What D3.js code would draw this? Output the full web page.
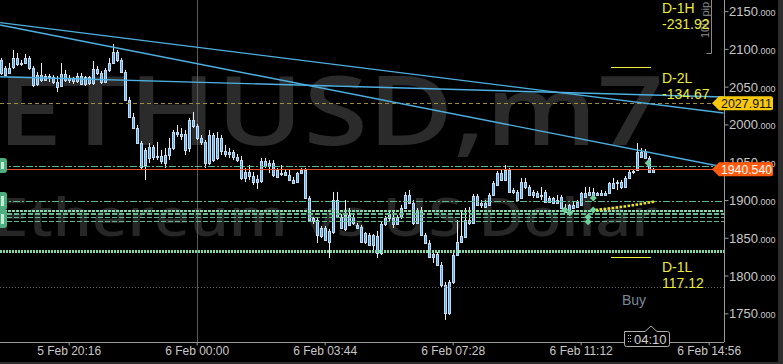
<!DOCTYPE html>
<html><head><meta charset="utf-8">
<script src="https://cdn.jsdelivr.net/npm/d3@7"></script>
<style>html,body{margin:0;padding:0;background:#000;overflow:hidden}svg{display:block}</style>
</head><body><svg id="c" width="783" height="364"></svg>
<script>
// ---------- DATA ----------
const firstCandle = "2024 5 Feb 18:17";
const candleMinutes = 7;
const openP = [2085.3,2065.4,2074.7,2076.0,2087.9,2080.0,2081.3,2087.9,2074.7,2053.5,
2065.4,2058.8,2064.1,2062.8,2056.2,2050.9,2066.8,2058.8,2061.5,2057.5,
2064.1,2053.5,2062.8,2054.8,2073.4,2068.1,2056.2,2072.1,2081.3,2095.9,
2085.3,2069.4,2032.3,2009.8,1995.3,1975.4,1946.3,1955.6,1970.1,1956.9,
1958.2,1949.0,1959.5,1968.8,1990.0,1987.3,1987.3,1968.8,2005.9,1997.9,
1982.0,1976.8,1949.0,1986.0,1955.6,1982.0,1964.8,1960.9,1963.5,1956.9,
1952.9,1929.1,1937.0,1931.7,1923.8,1925.1,1951.6,1945.0,1949.0,1939.7,
1934.4,1937.0,1933.1,1926.5,1923.8,1935.7,1939.7,1902.6,1872.2,1873.5,
1852.3,1862.9,1858.9,1857.6,1900.0,1877.5,1861.6,1880.1,1869.5,1866.9,
1864.2,1844.4,1853.7,1840.4,1852.3,1829.8,1868.2,1876.2,1876.2,1868.2,
1877.5,1889.4,1906.6,1896.0,1869.5,1886.7,1853.7,1843.1,1824.5,1828.5,
1814.0,1787.5,1750.4,1791.4,1827.2,1844.4,1851.0,1873.5,1869.5,1905.3,
1893.4,1896.0,1893.4,1906.6,1919.8,1935.7,1926.5,1939.7,1910.6,1910.6,
1902.6,1923.8,1917.2,1906.6,1909.2,1905.3,1910.6,1897.3,1902.6,1896.0,
1903.9,1889.4,1884.1,1893.4,1890.7,1893.4,1909.2,1906.6,1910.6,1906.6,
1909.2,1906.6,1909.2,1922.5,1922.5,1923.8,1917.2,1929.1,1937.0,1939.7,
1963.5,1964.8,1955.6,1937.0];
const highP = [2087.9,2077.3,2081.3,2098.5,2094.5,2085.3,2093.2,2090.6,2077.3,2069.4,
2081.3,2066.8,2066.8,2065.4,2064.1,2081.3,2072.1,2065.4,2062.8,2068.1,
2068.1,2064.1,2064.1,2084.0,2077.3,2070.7,2074.7,2087.9,2106.5,2098.5,
2087.9,2072.1,2036.3,2015.1,1999.2,1978.1,1968.8,1975.4,1972.8,1976.8,
1966.2,1968.8,1982.0,1992.6,1999.2,1995.3,1992.6,2008.5,2016.5,2000.6,
1986.0,1979.4,1992.6,1988.7,1990.0,1986.0,1972.8,1968.8,1966.2,1960.9,
1958.2,1942.3,1946.3,1937.0,1933.1,1955.6,1955.6,1952.9,1952.9,1942.3,
1946.3,1939.7,1939.7,1930.4,1937.0,1942.3,1942.3,1905.3,1877.5,1876.2,
1865.6,1865.6,1861.6,1910.6,1910.6,1881.5,1900.0,1889.4,1880.1,1869.5,
1866.9,1857.6,1856.3,1855.0,1858.9,1870.9,1878.8,1884.1,1884.1,1880.1,
1893.4,1910.6,1913.2,1900.0,1889.4,1890.7,1856.3,1847.0,1833.8,1831.1,
1817.9,1791.4,1794.1,1829.8,1873.5,1886.7,1889.4,1890.7,1907.9,1907.9,
1900.0,1900.0,1909.2,1925.1,1938.4,1939.7,1946.3,1942.3,1915.9,1913.2,
1929.1,1929.1,1919.8,1913.2,1911.9,1917.2,1913.2,1905.3,1903.9,1906.6,
1906.6,1894.7,1894.7,1897.3,1900.0,1910.6,1917.2,1917.2,1915.9,1910.6,
1913.2,1911.9,1923.8,1929.1,1926.5,1926.5,1931.7,1939.7,1941.0,1975.4,
1968.8,1967.5,1958.2,1942.3];
const lowP = [2065.4,2064.1,2066.8,2073.4,2077.3,2077.3,2080.0,2072.1,2049.5,2050.9,
2056.2,2057.5,2056.2,2053.5,2042.9,2049.5,2056.2,2054.8,2053.5,2054.8,
2052.2,2050.9,2052.2,2052.2,2065.4,2053.5,2054.8,2069.4,2080.0,2082.6,
2068.1,2031.0,2008.5,1994.0,1974.1,1939.7,1926.5,1949.0,1952.9,1952.9,
1947.6,1942.3,1952.9,1966.2,1983.4,1979.4,1959.5,1963.5,1995.3,1979.4,
1972.8,1942.3,1946.3,1950.3,1952.9,1959.5,1956.9,1955.6,1952.9,1950.3,
1926.5,1923.8,1926.5,1919.8,1914.5,1922.5,1942.3,1935.7,1930.4,1929.1,
1931.7,1931.7,1925.1,1921.2,1922.5,1934.4,1901.3,1870.9,1868.2,1843.1,
1849.7,1845.7,1823.2,1855.0,1876.2,1861.6,1858.9,1865.6,1866.9,1861.6,
1843.1,1841.7,1839.1,1829.8,1823.2,1827.2,1865.6,1872.2,1862.9,1866.9,
1874.8,1888.1,1894.7,1866.9,1868.2,1852.3,1841.7,1823.2,1816.6,1812.6,
1784.8,1741.2,1747.8,1788.8,1825.9,1843.1,1849.7,1866.9,1868.2,1892.0,
1889.4,1889.4,1892.0,1905.3,1918.5,1925.1,1925.1,1909.2,1907.9,1898.7,
1901.3,1914.5,1905.3,1902.6,1902.6,1900.0,1896.0,1896.0,1894.7,1894.7,
1888.1,1882.8,1882.8,1888.1,1889.4,1892.0,1902.6,1905.3,1901.3,1905.3,
1905.3,1905.3,1907.9,1914.5,1913.2,1914.5,1915.9,1927.8,1934.4,1938.4,
1955.6,1954.2,1935.7,1935.7];
const closeP = [2068.1,2074.7,2068.1,2087.9,2080.0,2081.3,2087.9,2074.7,2052.2,2065.4,
2058.8,2064.1,2062.8,2056.2,2049.5,2066.8,2058.8,2061.5,2057.5,2064.1,
2053.5,2062.8,2054.8,2073.4,2068.1,2056.2,2072.1,2081.3,2095.9,2085.3,
2069.4,2032.3,2009.8,1995.3,1975.4,1943.7,1966.2,1970.1,1956.9,1958.2,
1951.6,1959.5,1968.8,1990.0,1987.3,1984.7,1966.2,2005.9,1997.9,1982.0,
1976.8,1949.0,1986.0,1952.9,1982.0,1964.8,1960.9,1963.5,1956.9,1952.9,
1929.1,1937.0,1931.7,1923.8,1927.8,1951.6,1945.0,1949.0,1933.1,1930.4,
1935.7,1933.1,1926.5,1922.5,1935.7,1939.7,1902.6,1873.5,1876.2,1853.7,
1862.9,1847.0,1844.4,1900.0,1877.5,1862.9,1880.1,1866.9,1877.5,1862.9,
1844.4,1856.3,1840.4,1853.7,1829.8,1868.2,1876.2,1881.5,1868.2,1877.5,
1889.4,1906.6,1896.0,1869.5,1886.7,1853.7,1843.1,1824.5,1828.5,1814.0,
1787.5,1750.4,1791.4,1827.2,1844.4,1852.3,1873.5,1869.5,1905.3,1893.4,
1896.0,1890.7,1906.6,1922.5,1935.7,1926.5,1939.7,1910.6,1913.2,1900.0,
1923.8,1917.2,1906.6,1910.6,1903.9,1906.6,1897.3,1902.6,1896.0,1900.0,
1889.4,1884.1,1893.4,1889.4,1897.3,1909.2,1903.9,1910.6,1902.6,1909.2,
1906.6,1909.2,1922.5,1915.9,1923.8,1917.2,1929.1,1937.0,1938.4,1963.5,
1956.9,1955.6,1937.0,1940.54];

const priceTicks = [2150,2100,2050,2000,1950,1900,1850,1800,1750];
const timeTickLabels = ["5 Feb 20:16","6 Feb 00:00","6 Feb 03:44","6 Feb 07:28","6 Feb 11:12","6 Feb 14:56"];

// trendlines: start/end times and prices
const trendTimes = ["5 Feb 18:16","6 Feb 15:22"];
const trendA = [2134.7, 2015.1];
const trendB = [2131.6, 1943.7];
const trendC = [2063.2, 2036.3];

// horizontal levels
const levelPrices = [2027.911, 1945.0, 1940.54, 1899.1, 1885.4, 1883.4, 1880.8, 1877.0, 1871.8, 1832.5, 1785.2];
const levelKinds  = ["gold","greenDD","red","greenDD","greenThick","greenDash","greenDash","greenDash","greenDash","greenDots","gray"];

// yellow indicator (last 16 candles)
const indicatorStart = 148;
const indicatorVals = [1886.7,1887.1,1887.7,1888.2,1888.9,1889.5,1890.2,1890.9,1891.6,1892.4,1893.2,1894.0,1894.9,1895.9,1896.8,1897.6];

// trade markers
const markerTimes = ["6 Feb 10:44","6 Feb 10:53","6 Feb 11:34","6 Feb 11:25","6 Feb 11:25","6 Feb 11:34","6 Feb 13:10"];
const markerPrices = [1886.7,1883.2,1886.7,1877.5,1871.3,1902.6,1949.0];

// daily pivot segments
const pivotTimes = ["6 Feb 12:05","6 Feb 13:15"];
const pivotPrices = [2076.0, 1824.1];
const pivotLabels = [["D-1H","-231.92",2148.0],["D-2L","-134.67",2055.2],["D-1L","117.12",1805.0]];

const askLabel = "2027.911";
const bidLabel = "1940.540";

// ---------- CHART ----------
const svg = d3.select('#c');
const W = 783, H = 364, plotR = 724, plotB = 342;
const parse = d3.timeParse('%Y %d %b %H:%M');
const P = s => parse('2024 ' + s);
const x = d3.scaleTime().domain([P('5 Feb 20:16'), P('6 Feb 14:56')]).range([68.7, 708.7]);
const y = d3.scaleLinear().domain([1750, 2150]).range([313.3, 11.1]);

svg.append('rect').attr('width', W).attr('height', H).attr('fill', '#000');

const defs = svg.append('defs');
defs.append('clipPath').attr('id', 'plot').append('rect').attr('x', 0).attr('y', 0).attr('width', plotR).attr('height', plotB);

// watermark
const wm = svg.append('g').attr('clip-path', 'url(#plot)');
wm.append('text').attr('x', -3).attr('y', 145).attr('font-family', 'Open Sans, sans-serif').attr('font-weight', 600)
  .attr('font-size', 96).attr('fill', '#2b2b2b').attr('textLength', 667).attr('lengthAdjust', 'spacingAndGlyphs')
  .text('ETHUSD,m7');
wm.append('text').attr('x', -6).attr('y', 236).attr('font-family', 'Open Sans, sans-serif').attr('font-weight', 600)
  .attr('font-size', 52).attr('fill', '#272727').attr('textLength', 664).attr('lengthAdjust', 'spacingAndGlyphs')
  .text('Ethereum vs US Dollar');

const plot = svg.append('g').attr('clip-path', 'url(#plot)');

// day separator
plot.append('line').attr('x1', Math.round(x(P('6 Feb 00:00'))) + 0.5).attr('x2', Math.round(x(P('6 Feb 00:00'))) + 0.5)
  .attr('y1', 0).attr('y2', plotB).attr('stroke', '#5a5a5a').attr('stroke-width', 1);

// candles
const t0 = parse(firstCandle);
const candles = openP.map((o, i) => ({t: d3.timeMinute.offset(t0, i * candleMinutes), o, h: highP[i], l: lowP[i], c: closeP[i]}));
const cg = plot.append('g');
candles.forEach(d => {
  const cx = Math.round(x(d.t));
  cg.append('line').attr('x1', cx + 0.5).attr('x2', cx + 0.5).attr('y1', y(d.h)).attr('y2', y(d.l))
    .attr('stroke', '#e8eef4').attr('stroke-width', 1);
  const top = Math.round(y(Math.max(d.o, d.c))), bot = Math.round(y(Math.min(d.o, d.c)));
  cg.append('rect').attr('x', cx - 0.5).attr('y', top + 0.5).attr('width', 2).attr('height', Math.max(bot - top, 1))
    .attr('fill', '#5aaaf0').attr('stroke', '#c4dcf0').attr('stroke-width', 1);
  cg.append('rect').attr('x', cx).attr('y', top + 1).attr('width', 1).attr('height', Math.max(bot - top - 1, 0))
    .attr('fill', '#5aaaf0');
});

// horizontal levels
const levelStyle = {
  gold: {stroke: '#a08c3c', w: 1, dash: '4,3'},
  greenDD: {stroke: '#5fb98c', w: 1, dash: '7,2,2,2'},
  red: {stroke: '#e8502a', w: 1, dash: null},
  greenThick: {stroke: '#86d8aa', w: 2, dash: '3,1'},
  greenDash: {stroke: '#5fb98c', w: 1, dash: '5,2'},
  greenDots: {stroke: '#7fd8a6', w: 3, dash: '2,1'},
  gray: {stroke: '#6a6a6a', w: 1, dash: '1,2'}
};
levelPrices.forEach((p, i) => {
  const s = levelStyle[levelKinds[i]];
  const yy = Math.round(y(p)) + (s.w % 2 ? 0.5 : 0);
  plot.append('line').attr('x1', 0).attr('x2', plotR).attr('y1', yy).attr('y2', yy)
    .attr('stroke', s.stroke).attr('stroke-width', s.w).attr('stroke-dasharray', s.dash);
});

// trendlines
[trendA, trendB, trendC].forEach(tr => {
  plot.append('line').attr('x1', x(P(trendTimes[0]))).attr('y1', y(tr[0]))
    .attr('x2', x(P(trendTimes[1]))).attr('y2', y(tr[1]))
    .attr('stroke', '#4db0e0').attr('stroke-width', 1.4);
});

// indicator dots
indicatorVals.forEach((v, i) => {
  const cx = x(candles[indicatorStart + i].t);
  plot.append('rect').attr('x', cx - 1.2).attr('y', y(v) - 1.2).attr('width', 2.6).attr('height', 2.6).attr('fill', '#e8e020');
});

// trade markers
markerTimes.forEach((t, i) => {
  const cx = x(P(t)), cy = y(markerPrices[i]);
  plot.append('path').attr('d', `M${cx},${cy - 3.5}L${cx + 3.5},${cy}L${cx},${cy + 3.5}L${cx - 3.5},${cy}Z`).attr('fill', '#6fcf9c');
});

// pivot segments
pivotPrices.forEach(p => {
  plot.append('line').attr('x1', x(P(pivotTimes[0]))).attr('x2', x(P(pivotTimes[1])))
    .attr('y1', Math.round(y(p)) + 0.5).attr('y2', Math.round(y(p)) + 0.5).attr('stroke', '#f0f040').attr('stroke-width', 1.2);
});

// 100 pip scale bracket
svg.append('path').attr('d', 'M706.5,53.5H711.5V0').attr('fill', 'none').attr('stroke', '#8a8a8a');
svg.append('text').attr('transform', 'translate(709,38) rotate(-90)').attr('font-family', 'Liberation Sans, Arial')
  .attr('font-size', 11).attr('fill', '#8a8a8a').text('100 pip');

// pivot labels
pivotLabels.forEach(pl => {
  const by = y(pl[2]);
  const tg = svg.append('text').attr('font-family', 'Liberation Sans, Arial').attr('font-size', 14).attr('fill', '#ecec3c');
  tg.append('tspan').attr('x', 662).attr('y', by).text(pl[0]);
  tg.append('tspan').attr('x', 662).attr('y', by + 16).text(pl[1]);
});

// Buy label
svg.append('text').attr('x', 622).attr('y', 305).attr('font-family', 'Liberation Sans, Arial').attr('font-size', 14)
  .attr('fill', '#7c8a9a').text('Buy');

// left labels
[[158, 15], [192, 18], [210, 18]].forEach(r => {
  svg.append('rect').attr('x', -6).attr('y', r[0]).attr('width', 13).attr('height', r[1]).attr('rx', 3).attr('fill', '#4fae80');
  svg.append('rect').attr('x', 1).attr('y', r[0] + 4).attr('width', 3).attr('height', r[1] - 8).attr('fill', '#bfeed5');
});

// axes
const axisColor = '#9a9a9a';
const yAxis = svg.append('g').attr('transform', `translate(${plotR + 0.5},0)`)
  .call(d3.axisRight(y).tickValues(priceTicks).tickSize(4).tickFormat(d => d));
yAxis.select('.domain').attr('stroke', axisColor).attr('d', `M0,0V${plotB}`);
yAxis.selectAll('.tick line').attr('stroke', axisColor);
yAxis.selectAll('.tick text').each(function(d) {
  const t = d3.select(this).text('').attr('x', 4.5).attr('dy', '0.45em').attr('fill', '#c8c8c8')
    .attr('font-family', 'Liberation Sans, Arial');
  t.append('tspan').attr('font-size', 13).text(d);
  t.append('tspan').attr('font-size', 9).text('.000');
});

const xAxis = svg.append('g').attr('transform', `translate(0,${plotB + 0.5})`)
  .call(d3.axisBottom(x).tickValues(timeTickLabels.map(P)).tickSize(3).tickFormat((d, i) => timeTickLabels[i]));
xAxis.select('.domain').attr('stroke', axisColor).attr('d', `M0,0H${plotR}`);
xAxis.selectAll('.tick line').attr('stroke', axisColor);
xAxis.selectAll('.tick text').attr('fill', '#c8c8c8').attr('font-family', 'Liberation Sans, Arial').attr('font-size', 12).attr('dy', '0.55em');

// price tags
function tag(price, label, fill, color) {
  const cy = y(price);
  svg.append('path').attr('d', `M712,${cy}L719,${cy - 7}H771a2,2 0 0 1 2,2V${cy + 5}a2,2 0 0 1 -2,2H719Z`).attr('fill', fill);
  svg.append('text').attr('x', 746.5).attr('y', cy).attr('dy', '0.36em').attr('text-anchor', 'middle')
    .attr('font-family', 'Liberation Sans, Arial').attr('font-size', 12.5).attr('fill', color)
    .attr('textLength', 51).attr('lengthAdjust', 'spacingAndGlyphs').text(label);
}
tag(2027.911, askLabel, '#f7c80e', '#111');
tag(1940.54, bidLabel, '#ff5a0e', '#fff');

// time tooltip box
const tb = svg.append('g');
tb.append('path').attr('d', 'M624.5,331.5H645L651,326L657,331.5H667.5a2,2 0 0 1 2,2V344.5a2,2 0 0 1 -2,2H626.5a2,2 0 0 1 -2,-2V333.5Z')
  .attr('fill', '#000').attr('stroke', '#b0b0b0');
[[628,335],[628,338],[628,341],[630,335],[630,338],[630,341]].forEach(p => tb.append('rect').attr('x', p[0]).attr('y', p[1]).attr('width', 1).attr('height', 1).attr('fill', '#c8c8c8'));
tb.append('text').attr('x', 634).attr('y', 343.5).attr('font-family', 'Liberation Sans, Arial').attr('font-size', 13)
  .attr('fill', '#d0d0d0').text('04:10');

// window border
svg.append('rect').attr('x', 778).attr('y', 0).attr('width', 5).attr('height', H).attr('fill', '#2e2e2e');
svg.append('rect').attr('x', 0).attr('y', 362).attr('width', W).attr('height', 2).attr('fill', '#2e2e2e');
</script></body></html>
